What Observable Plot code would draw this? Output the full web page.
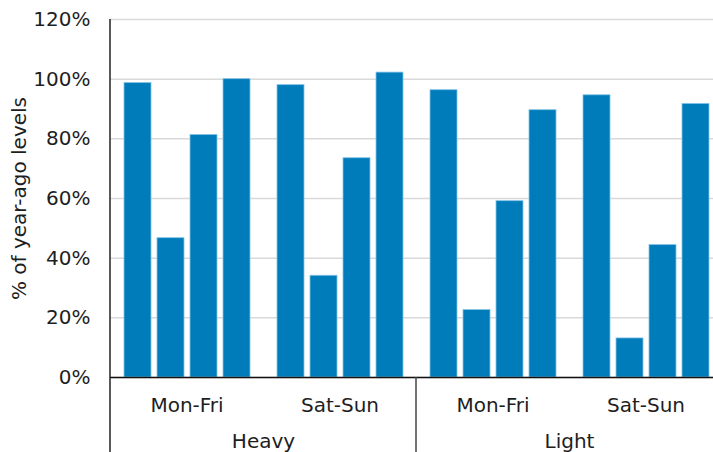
<!DOCTYPE html>
<html>
<head>
<meta charset="utf-8">
<script src="https://cdn.jsdelivr.net/npm/d3@7"></script>
<script src="https://cdn.jsdelivr.net/npm/@observablehq/plot@0.6"></script>
<style>
html, body { margin: 0; padding: 0; background: #fff; overflow: hidden; }
#chart { width: 722px; }
</style>
</head>
<body>
<div id="chart"></div>
<script>
// ---- data ----
const vehicleTypes = ["Heavy", "Light"];
const dayTypes = ["Mon-Fri", "Sat-Sun"];
const series = ["Series 1", "Series 2", "Series 3", "Series 4"];
const heavyMonFri = [98.7, 46.7, 81.3, 100.0];
const heavySatSun = [98.0, 34.1, 73.5, 102.2];
const lightMonFri = [96.3, 22.6, 59.1, 89.6];
const lightSatSun = [94.6, 13.1, 44.4, 91.7];
const yTicks = [0, 20, 40, 60, 80, 100, 120];
const yLabel = "% of year-ago levels";

const valuesByGroup = {
  "Heavy|Mon-Fri": heavyMonFri,
  "Heavy|Sat-Sun": heavySatSun,
  "Light|Mon-Fri": lightMonFri,
  "Light|Sat-Sun": lightSatSun
};

const groups = [];
const groupInfo = [];
for (const v of vehicleTypes) for (const d of dayTypes) {
  const key = v + "|" + d;
  groups.push(key);
  groupInfo.push({group: key, vehicle: v, day: d});
}
const data = [];
for (const g of groupInfo) {
  valuesByGroup[g.group].forEach((val, i) => data.push({group: g.group, series: series[i], value: val}));
}
const vehicleLabels = vehicleTypes.map(v => ({group: v + "|" + dayTypes[0], label: v}));

const textColor = "#1e1e1e";

const plot = Plot.plot({
  width: 722,
  height: 452,
  marginLeft: 109,
  marginRight: 0,
  marginTop: 19,
  marginBottom: 75,
  style: {fontFamily: "'DejaVu Sans', Verdana, sans-serif", fontSize: "20px", color: textColor, background: "#fff", maxWidth: "none"},
  fx: {domain: groups, padding: 0, axis: null},
  x: {domain: series, paddingInner: 0.19, paddingOuter: 0.39, axis: null},
  y: {
    domain: [0, 120],
    ticks: yTicks,
    tickFormat: d => d + "%",
    tickSize: 0,
    tickPadding: 20,
    label: yLabel,
    labelAnchor: "center",
    labelArrow: "none",
    labelOffset: 99
  },
  marks: [
    Plot.gridY(yTicks, {stroke: "#d9d9d9", strokeOpacity: 1, strokeWidth: 1.5}),
    Plot.barY(data, {fx: "group", x: "series", y: "value", fill: "#007cba", stroke: "#86c4e6", strokeWidth: 0.8}),
    Plot.ruleY([0], {stroke: "#111", strokeWidth: 1.5}),
    Plot.text(groupInfo, {fx: "group", text: "day", frameAnchor: "bottom", dy: 34, fill: textColor}),
    Plot.text(vehicleLabels, {fx: "group", text: "label", frameAnchor: "bottom-right", textAnchor: "middle", dy: 70, fill: textColor})
  ]
});

document.getElementById("chart").appendChild(plot);

// separators placed with the library's own scales
const fxs = plot.scale("fx");
const ys = plot.scale("y");
const svg = d3.select(plot);
const sep = svg.append("g").attr("stroke", "#222").attr("stroke-width", 1.5);
const leftX = fxs.apply(groups[0]);
sep.append("line").attr("x1", leftX).attr("x2", leftX).attr("y1", ys.apply(120)).attr("y2", 452);
const midX = fxs.apply(groups[2]);
sep.append("line").attr("x1", midX).attr("x2", midX).attr("y1", ys.apply(0)).attr("y2", 452).attr("stroke", "#444");
</script>
</body>
</html>
